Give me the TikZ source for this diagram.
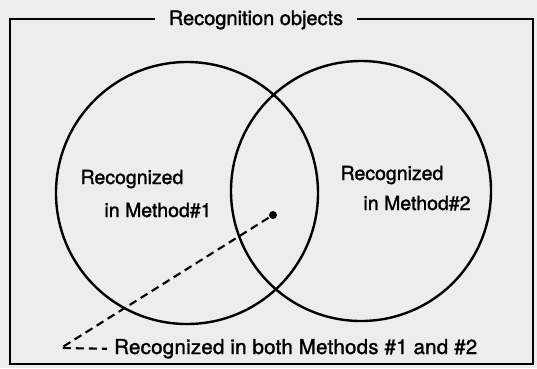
\documentclass[tikz,border=0pt]{standalone}
\usepackage{fontspec}
\setmainfont{TeX Gyre Heros}[FakeBold=1.5]

\begin{document}
\begin{tikzpicture}[x=1pt,y=-1pt,line width=2.4pt,
    set node/.style={circle,draw,line width=2.4pt,minimum size=262pt,inner sep=0pt},
    tag/.style={font=\fontsize{19.5}{22}\selectfont,anchor=base,inner sep=0pt},
    pointer/.style={line width=2.1pt,dash pattern=on 8pt off 5pt}]

    % paper and page size
    \fill[black!7] (0,0) rectangle (537,368);
    \useasboundingbox (0,0) rectangle (537,368);

    % outer box, broken by its title
    \node[tag,font=\fontsize{20}{22}\selectfont,inner xsep=13pt] (title) at (256,25) {Recognition objects};
    \coordinate (tl) at (10,19);
    \draw (title.west |- tl) -- (tl) -- (10,364) -- (533,364) -- (533,19) -- (title.east |- tl);

    % the two methods
    \node[set node] (m1) at (187,193) {};
    \node[set node,minimum size=260pt] (m2) at (361,191) {};

    \node[tag] (m1a) at (132,184) {Recognized};
    \node[tag] (m1b) at (158,217) {in Method\#1};
    \node[tag] (m2a) at (392,180) {Recognized};
    \node[tag] (m2b) at (417,210) {in Method\#2};

    % common part
    \node[circle,fill,inner sep=0pt,minimum size=8pt] (both) at (273,215) {};
    \node[tag,anchor=base west,font=\fontsize{20.5}{22}\selectfont\addfontfeature{LetterSpace=1.2}] (bothtext) at (113,354)
        {Recognized in both Methods \#1 and \#2};
    \coordinate (corner) at (61,348);
    \draw[pointer] (both) -- (corner) -- ([xshift=-6pt]bothtext.west);

\end{tikzpicture}
\end{document}
